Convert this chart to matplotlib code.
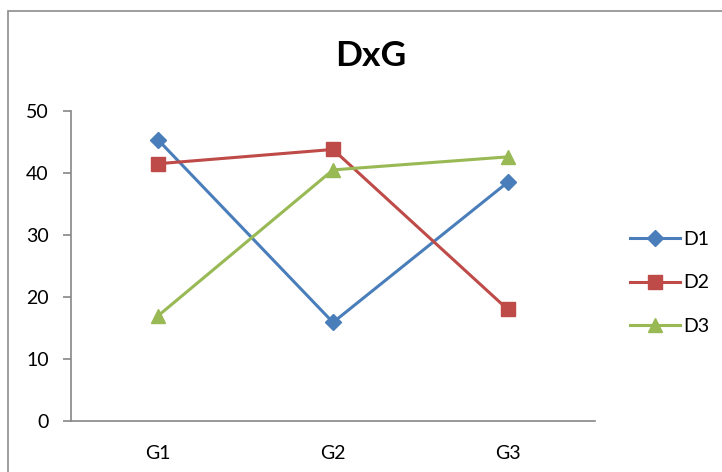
import matplotlib
matplotlib.use("Agg")
import matplotlib.pyplot as plt
from matplotlib.patches import Rectangle

# Data
groups = ["G1", "G2", "G3"]
d1 = [45.3, 15.9, 38.5]
d2 = [41.5, 43.8, 18.0]
d3 = [17.0, 40.5, 42.6]
series_names = ["D1", "D2", "D3"]
y_ticks = [0, 10, 20, 30, 40, 50]

colors = ["#4A7EBB", "#BE4B48", "#98B954"]
markers = ["D", "s", "^"]
msizes = [8.5, 9.5, 10]

plt.rcParams["font.family"] = ["Lato", "DejaVu Sans"]

fig = plt.figure(figsize=(7.22, 4.72), dpi=100)
W, H = 722, 472

# outer chart-area frame
fig.patches.append(Rectangle((7.5 / W, -0.1), 1.2, (H - 10.5) / H + 0.1,
                             transform=fig.transFigure, fill=False,
                             edgecolor="#8c8c8c", linewidth=1.2))

ax = fig.add_axes([71 / W, (H - 421) / H, (595 - 71) / W, (421 - 111) / H])

x = list(range(len(groups)))
for vals, name, c, m, ms in zip([d1, d2, d3], series_names, colors, markers, msizes):
    ax.plot(x, vals, color=c, linewidth=2.2, marker=m, markersize=ms,
            markerfacecolor=c, markeredgecolor=c, label=name, clip_on=False)

ax.set_xlim(-0.5, len(groups) - 0.5)
ax.set_ylim(0, 50)
ax.set_yticks(y_ticks)
ax.set_xticks(x)
ax.set_xticklabels(groups)

for s in ["top", "right"]:
    ax.spines[s].set_visible(False)
for s in ["left", "bottom"]:
    ax.spines[s].set_color("#868686")
    ax.spines[s].set_linewidth(1.2)

ax.tick_params(axis="y", length=6, width=1.2, color="#868686", pad=10,
               labelsize=14, labelcolor="black")
ax.tick_params(axis="x", length=0, pad=17, labelsize=14, labelcolor="black")

fig.text(371 / W, 1 - 56 / H, "DxG", ha="center", va="center",
         fontsize=25.5, fontweight="bold")

leg = fig.legend(loc="center left", bbox_to_anchor=(630 / W, 1 - 283 / H),
                 bbox_transform=fig.transFigure, frameon=False, fontsize=14,
                 handlelength=2.55, labelspacing=1.36, handletextpad=0.2,
                 borderaxespad=0, borderpad=0)

fig.savefig("out.png", dpi=100)
